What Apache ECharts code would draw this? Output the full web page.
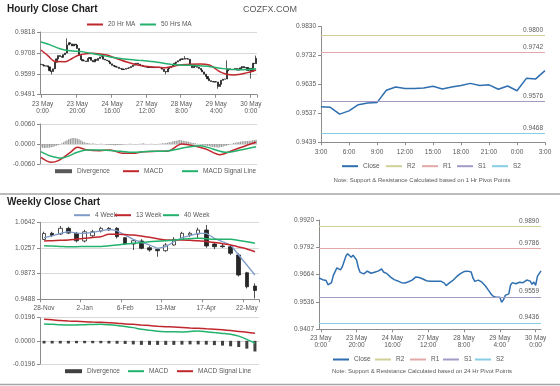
<!DOCTYPE html>
<html><head><meta charset="utf-8">
<script src="https://cdn.jsdelivr.net/npm/echarts/dist/echarts.min.js"></script>
<style>html,body{margin:0;padding:0;background:#fff}#c{width:560px;height:386px}</style>
</head><body><div id="c"></div>
<script>
// ---------------- DATA ----------------
// Hourly closes (22 May 23:00 ... 30 May 3:00)
const hourlyClose = [
0.9648,0.9645,0.9640,0.9642,0.9636,0.9616,0.9612,0.9626,0.9660,0.9678,
0.9695,0.9690,0.9686,0.9700,0.9708,0.9750,0.9762,0.9756,0.9745,0.9755,
0.9750,0.9732,0.9696,0.9674,0.9668,0.9667,0.9664,0.9680,0.9685,0.9670,
0.9662,0.9675,0.9670,0.9680,0.9688,0.9690,0.9676,0.9672,0.9668,0.9662,
0.9652,0.9644,0.9640,0.9636,0.9634,0.9628,0.9626,0.9622,0.9624,0.9628,
0.9630,0.9632,0.9638,0.9645,0.9652,0.9655,0.9650,0.9645,0.9643,0.9638,
0.9635,0.9634,0.9633,0.9636,0.9632,0.9634,0.9632,0.9635,0.9633,0.9630,
0.9624,0.9612,0.9610,0.9626,0.9632,0.9638,0.9645,0.9655,0.9662,0.9668,
0.9675,0.9678,0.9676,0.9680,0.9678,0.9676,0.9648,0.9632,0.9640,0.9638,
0.9634,0.9628,0.9620,0.9610,0.9598,0.9586,0.9574,0.9564,0.9560,0.9557,
0.9559,0.9557,0.9534,0.9545,0.9566,0.9572,0.9573,0.9615,0.9626,0.9621,
0.9621,0.9622,0.9628,0.9619,0.9626,0.9631,0.9638,0.9631,0.9633,0.9618,
0.9629,0.9613,0.9655,0.9653,0.9681];
const hourlyFirstOpen = 0.9650;
const hourlyWickHigh = {15:0.9785, 83:0.9692, 107:0.9670, 124:0.9695};
const hourlyWickLow  = {6:0.9597, 72:0.9597, 102:0.9522, 121:0.9575};
// moving averages: [hour index, value]
const hourlyMA20 = [[0,0.9724],[4,0.9695],[8,0.9665],[14,0.9663],[18,0.9680],[22,0.9698],[26,0.9705],[30,0.9707],[34,0.9703],[38,0.9698],[42,0.9685],[46,0.9672],[50,0.9660],[54,0.9650],[58,0.9642],[63,0.9637],[68,0.9634],[72,0.9632],[76,0.9638],[80,0.9646],[86,0.9650],[92,0.9651],[97,0.9646],[100,0.9630],[103,0.9611],[107,0.9598],[111,0.9594],[115,0.9598],[119,0.9606],[124,0.9620]];
const hourlyMA50 = [[0,0.9766],[5,0.9752],[11,0.9731],[17,0.9720],[23,0.9716],[28,0.9708],[34,0.9698],[40,0.9688],[47,0.9679],[57,0.9670],[67,0.9660],[76,0.9648],[86,0.9644],[96,0.9639],[105,0.9627],[115,0.9621],[124,0.9626]];
const hourlyMACD = [[0,-0.0040],[6,-0.0055],[10,-0.0050],[17,-0.0025],[21,-0.0010],[26,-0.0017],[34,-0.0020],[40,-0.0018],[47,-0.0028],[53,-0.0028],[59,-0.0023],[67,-0.0022],[74,-0.0020],[81,0.0000],[88,-0.0005],[95,-0.0015],[103,-0.0032],[111,-0.0018],[118,-0.0005],[124,0.0005]];
const hourlySignal = [[0,-0.0023],[5,-0.0035],[12,-0.0042],[21,-0.0025],[26,-0.0018],[34,-0.0018],[46,-0.0022],[53,-0.0025],[63,-0.0022],[74,-0.0020],[84,-0.0010],[92,-0.0005],[99,-0.0015],[107,-0.0025],[115,-0.0018],[124,-0.0008]];
const hourlyDivergence = [
-0.0010,-0.0011,-0.0012,-0.0012,-0.0011,-0.0011,-0.0010,-0.0009,-0.0007,-0.0005,-0.0003,
-0.0001,0.0002,0.0005,0.0008,0.0011,0.0014,
0.0016,0.0018,0.0018,0.0017,0.0016,0.0014,0.0011,0.0008,
0.0005,0.0004,0.0003,0.0002,0.0001,0.0002,0.0001,-0.0001,0.0000,0.0001,
0.0001,0.0000,-0.0001,-0.0002,-0.0002,-0.0003,-0.0003,-0.0004,-0.0004,-0.0003,-0.0003,-0.0002,-0.0002,-0.0001,-0.0001,0.0000,0.0001,0.0001,0.0000,-0.0001,
-0.0001,0.0000,0.0001,0.0001,0.0002,0.0001,0.0000,0.0000,0.0001,0.0001,0.0000,-0.0001,0.0000,0.0001,0.0001,0.0002,0.0002,0.0003,0.0004,
0.0005,0.0006,0.0008,0.0009,0.0010,0.0011,0.0012,0.0011,0.0010,0.0009,0.0008,
0.0007,0.0005,0.0004,0.0003,0.0002,0.0001,0.0000,-0.0001,
-0.0002,-0.0003,-0.0005,-0.0006,-0.0007,-0.0008,-0.0009,-0.0010,-0.0010,-0.0011,-0.0010,-0.0009,-0.0008,-0.0006,-0.0005,-0.0003,-0.0001,0.0001,
0.0003,0.0004,0.0005,0.0006,0.0007,0.0008,0.0008,0.0009,0.0009,0.0010,0.0010,0.0011,0.0012,0.0013];
const hourlyYLabels = ['0.9491','0.9599','0.9708','0.9818'];
const hourlyMacdLabels = ['-0.0060','0.0000','0.0060'];
// pivots
const pivot1h = {R2:0.9800, R1:0.9742, S1:0.9576, S2:0.9468};
const pivot24h = {R2:0.9890, R1:0.9786, S1:0.9559, S2:0.9436};
const right1YLabels = ['0.9439','0.9537','0.9635','0.9732','0.9830'];
const right2YLabels = ['0.9407','0.9536','0.9664','0.9792','0.9920'];

// Weekly
const weeklyCategories = ['28-Nov','5-Dec','12-Dec','19-Dec','26-Dec','2-Jan','9-Jan','16-Jan','23-Jan','30-Jan','6-Feb','13-Feb','20-Feb','27-Feb','6-Mar','13-Mar','20-Mar','27-Mar','3-Apr','10-Apr','17-Apr','24-Apr','1-May','8-May','15-May','22-May','29-May'];
const weeklyOpen  = [1.0385,1.0477,1.0466,1.0552,1.0477,1.0362,1.0440,1.0512,1.0552,1.0552,1.0411,1.0317,1.0362,1.0261,1.0237,1.0216,1.0302,1.0387,1.0452,1.0466,1.0526,1.0317,1.0287,1.0276,1.0152,0.9886,0.9686];
const weeklyClose = [1.0475,1.0445,1.0552,1.0480,1.0365,1.0500,1.0500,1.0552,1.0527,1.0426,1.0317,1.0366,1.0252,1.0227,1.0216,1.0302,1.0387,1.0477,1.0477,1.0526,1.0287,1.0276,1.0276,1.0177,0.9852,0.9676,0.9620];
const weeklyLow   = [1.0376,1.0420,1.0452,1.0466,1.0340,1.0340,1.0420,1.0490,1.0515,1.0400,1.0302,1.0226,1.0237,1.0200,1.0126,1.0200,1.0290,1.0376,1.0420,1.0400,1.0260,1.0240,1.0260,1.0150,0.9830,0.9650,0.9502];
const weeklyHigh  = [1.0501,1.0500,1.0587,1.0575,1.0498,1.0530,1.0530,1.0575,1.0570,1.0570,1.0420,1.0390,1.0390,1.0290,1.0250,1.0330,1.0420,1.0500,1.0500,1.0562,1.0602,1.0347,1.0330,1.0300,1.0177,0.9900,0.9727];
const weekly4 =  [1.0411,1.0440,1.0477,1.0501,1.0480,1.0477,1.0490,1.0512,1.0537,1.0516,1.0450,1.0387,1.0340,1.0302,1.0252,1.0276,1.0351,1.0411,1.0441,1.0477,1.0477,1.0402,1.0351,1.0302,1.0152,1.0002,0.9852];
const weekly13 = [1.0362,1.0367,1.0372,1.0377,1.0390,1.0402,1.0414,1.0426,1.0462,1.0462,1.0458,1.0452,1.0435,1.0417,1.0397,1.0377,1.0377,1.0377,1.0372,1.0366,1.0354,1.0341,1.0322,1.0302,1.0272,1.0242,1.0201];
const weekly40 = [1.0291,1.0286,1.0281,1.0276,1.0277,1.0278,1.0280,1.0281,1.0290,1.0302,1.0315,1.0327,1.0339,1.0351,1.0359,1.0366,1.0376,1.0387,1.0395,1.0402,1.0395,1.0387,1.0387,1.0387,1.0370,1.0351,1.0327];
const weeklyMACD = [0.0143,0.0140,0.0136,0.0134,0.0135,0.0137,0.0139,0.0140,0.0136,0.0130,0.0122,0.0112,0.0098,0.0090,0.0082,0.0078,0.0076,0.0075,0.0080,0.0084,0.0078,0.0070,0.0063,0.0055,0.0040,0.0012,-0.0020];
const weeklySignal = [0.0182,0.0178,0.0172,0.0168,0.0165,0.0162,0.0159,0.0157,0.0154,0.0150,0.0143,0.0140,0.0134,0.0129,0.0124,0.0120,0.0117,0.0113,0.0109,0.0106,0.0102,0.0098,0.0093,0.0087,0.0080,0.0072,0.0064];
const weeklyDivergence = [-0.0022,-0.0022,-0.0022,-0.0022,-0.0020,-0.0020,-0.0020,-0.0020,-0.0022,-0.0024,-0.0026,-0.0030,-0.0034,-0.0034,-0.0034,-0.0034,-0.0034,-0.0032,-0.0030,-0.0030,-0.0032,-0.0036,-0.0040,-0.0046,-0.0052,-0.0066,-0.0090];
const weeklyYLabels = ['0.9488','0.9873','1.0257','1.0642'];
const weeklyMacdLabels = ['-0.0196','0.0000','0.0196'];

// ---------------- BUILD ----------------
const hourlyCategories = [];
for (let k = 0; k < hourlyClose.length; k++) {
  let h = k - 1;
  if (h >= 48) h += 48; // weekend gap
  const day = 23 + Math.floor(h / 24);
  hourlyCategories.push(day + ' May ' + (((h % 24) + 24) % 24) + ':00');
}
const hourlyCandles = hourlyClose.map((c, i) => {
  const o = i === 0 ? hourlyFirstOpen : hourlyClose[i - 1];
  const lo = Math.min(o, c, hourlyWickLow[i] !== undefined ? hourlyWickLow[i] : Infinity);
  const hi = Math.max(o, c, hourlyWickHigh[i] !== undefined ? hourlyWickHigh[i] : -Infinity);
  return [o, c, lo, hi];
});
const weeklyCandles = weeklyOpen.map((o, i) => [o, weeklyClose[i], weeklyLow[i], weeklyHigh[i]]);
const last24 = hourlyCategories.slice(-25);
const last24Close = hourlyClose.slice(-25);

const FONT = 'Liberation Sans, Arial, sans-serif';
const TXT = '#595959', AXC = '#8c8c8c', GRC = '#d9d9d9';
const RED = '#c0272d', GREEN = '#23b26d', BLUE = '#2f6fb0', STEEL = '#7f9cc9';
const R2C = '#cfcf96', R1C = '#e3a8a8', S1C = '#a39bc6', S2C = '#86cde6';

function nearest(labels, v) {
  let best = labels[0], d = Infinity;
  labels.forEach(s => { const e = Math.abs(parseFloat(s) - v); if (e < d) { d = e; best = s; } });
  return best;
}
function yAx(gi, labels, opt) {
  const mn = parseFloat(labels[0]), mx = parseFloat(labels[labels.length - 1]);
  return Object.assign({
    type: 'value', gridIndex: gi, min: mn, max: mx, interval: (mx - mn) / (labels.length - 1),
    axisLine: {show: true, lineStyle: {color: AXC}},
    axisTick: {show: true, length: 3, lineStyle: {color: AXC}},
    axisLabel: {color: TXT, fontSize: 6.5, fontFamily: FONT, margin: 5, formatter: v => nearest(labels, v)},
    splitLine: {show: true, lineStyle: {color: GRC}}
  }, opt || {});
}
const hourLabelInterval = idx => idx % 20 === 1;
function xAx(gi, data, opt) {
  return Object.assign({
    type: 'category', gridIndex: gi, data,
    axisLine: {show: true, lineStyle: {color: AXC}},
    axisTick: {show: true, length: 3, lineStyle: {color: AXC}},
    axisLabel: {color: TXT, fontSize: 6.5, fontFamily: FONT, margin: 5, lineHeight: 7},
    splitLine: {show: false}
  }, opt || {});
}
function leg(name, color, left, cy, h, w) {
  return {show: true, selectedMode: false, left: left, top: cy - 4, icon: 'rect',
    itemWidth: w || 16, itemHeight: h || 2, padding: 0, itemGap: 0,
    textStyle: {color: TXT, fontSize: 6.5, fontFamily: FONT},
    data: [{name: name, itemStyle: {color: color}}]};
}
function pivotSeries(name, color, value, gi) {
  return {type: 'line', name: name, xAxisIndex: gi, yAxisIndex: gi, data: [], color: color,
    markLine: {silent: true, symbol: 'none', animation: false, precision: 4,
      lineStyle: {color: color, type: 'solid', width: 1.2},
      label: {position: 'insideEndTop', formatter: p => Number(p.value).toFixed(4), color: TXT, fontSize: 6.5, fontFamily: FONT, distance: 2},
      data: [{yAxis: value}]}};
}
const lineBase = {type: 'line', showSymbol: false, symbol: 'none', smooth: 0.3};

const option = {
  animation: false,
  textStyle: {fontFamily: FONT},
  grid: [
    {left: 40, top: 32, width: 217, height: 62.7, outerBoundsMode: 'none'},
    {left: 40, top: 124, width: 217, height: 40, outerBoundsMode: 'none'},
    {left: 40, top: 222.3, width: 219, height: 77, outerBoundsMode: 'none'},
    {left: 40, top: 317.7, width: 219, height: 46.3, outerBoundsMode: 'none'},
    {left: 321, top: 26.5, width: 224, height: 115.8, outerBoundsMode: 'none'},
    {left: 319, top: 220, width: 222, height: 109.3, outerBoundsMode: 'none'}
  ],
  xAxis: [
    xAx(0, hourlyCategories, {axisLabel: {color: TXT, fontSize: 6.5, fontFamily: FONT, margin: 6, lineHeight: 7, interval: hourLabelInterval, formatter: v => v.replace(/ (\d+:\d+)$/, '\n$1')}, axisTick: {show: true, length: 3, interval: hourLabelInterval, lineStyle: {color: AXC}}}),
    xAx(1, hourlyCategories, {show: false}),
    xAx(2, weeklyCategories, {axisLabel: {color: TXT, fontSize: 6.5, fontFamily: FONT, margin: 5, interval: 4}, axisTick: {show: true, length: 3, interval: 4, lineStyle: {color: AXC}}}),
    xAx(3, weeklyCategories, {show: false}),
    xAx(4, last24, {boundaryGap: false, axisLabel: {color: TXT, fontSize: 6.5, fontFamily: FONT, margin: 6, interval: 2, formatter: v => v.split(' ').pop()}, axisTick: {show: true, length: 3, interval: 2, lineStyle: {color: AXC}}}),
    xAx(5, hourlyCategories, {boundaryGap: false, axisLabel: {color: TXT, fontSize: 6.5, fontFamily: FONT, margin: 5, lineHeight: 7, interval: hourLabelInterval, formatter: v => v.replace(/ (\d+:\d+)$/, '\n$1')}, axisTick: {show: true, length: 3, interval: hourLabelInterval, lineStyle: {color: AXC}}})
  ],
  yAxis: [
    yAx(0, hourlyYLabels),
    yAx(1, hourlyMacdLabels),
    yAx(2, weeklyYLabels),
    yAx(3, weeklyMacdLabels),
    yAx(4, right1YLabels, {splitLine: {show: false}}),
    yAx(5, right2YLabels, {splitLine: {show: false}})
  ],
  legend: [
    leg('20 Hr MA', RED, 87, 25),
    leg('50 Hrs MA', GREEN, 140, 25),
    leg('Divergence', '#595959', 55, 171.7, 4, 17),
    leg('MACD', RED, 123, 171.7),
    leg('MACD Signal Line', GREEN, 182, 171.7),
    leg('4 Week', STEEL, 74, 215.7),
    leg('13 Week', RED, 115, 215.7),
    leg('40 Week', GREEN, 163, 215.7),
    leg('Divergence', '#404040', 65, 371.7, 4, 17),
    leg('MACD', GREEN, 128, 371.7),
    leg('MACD Signal Line', RED, 177, 371.7),
    leg('Close', BLUE, 342, 166.7),
    leg('R2', R2C, 386, 166.7),
    leg('R1', R1C, 422, 166.7),
    leg('S1', S1C, 457, 166.7),
    leg('S2', S2C, 492, 166.7),
    leg('Close', BLUE, 333, 360),
    leg('R2', R2C, 375, 360),
    leg('R1', R1C, 410, 360),
    leg('S1', S1C, 443, 360),
    leg('S2', S2C, 475, 360)
  ],
  series: [
    {type: 'candlestick', name: 'Hourly', xAxisIndex: 0, yAxisIndex: 0, data: hourlyCandles, barWidth: 1.6,
      itemStyle: {color: '#3a3a3a', color0: '#111111', borderColor: '#111111', borderColor0: '#111111', borderWidth: 0.7}},
    Object.assign({}, lineBase, {name: '20 Hr MA', xAxisIndex: 0, yAxisIndex: 0, data: hourlyMA20, color: RED, lineStyle: {width: 1.5, color: RED}}),
    Object.assign({}, lineBase, {name: '50 Hrs MA', xAxisIndex: 0, yAxisIndex: 0, data: hourlyMA50, color: GREEN, lineStyle: {width: 1.5, color: GREEN}}),

    {type: 'bar', name: 'Divergence', xAxisIndex: 1, yAxisIndex: 1, data: hourlyDivergence, barWidth: 1.2, itemStyle: {color: '#9a9a9a'}},
    Object.assign({}, lineBase, {name: 'MACD', xAxisIndex: 1, yAxisIndex: 1, data: hourlyMACD, lineStyle: {width: 1.5, color: RED}, color: RED}),
    Object.assign({}, lineBase, {name: 'MACD Signal Line', xAxisIndex: 1, yAxisIndex: 1, data: hourlySignal, lineStyle: {width: 1.5, color: GREEN}, color: GREEN}),

    {type: 'candlestick', name: 'Weekly', xAxisIndex: 2, yAxisIndex: 2, data: weeklyCandles, barWidth: 4,
      itemStyle: {color: '#ffffff', color0: '#262626', borderColor: '#262626', borderColor0: '#262626', borderWidth: 0.8}},
    Object.assign({}, lineBase, {name: '4 Week', xAxisIndex: 2, yAxisIndex: 2, data: weekly4, smooth: false, lineStyle: {width: 1.3, color: STEEL}, color: STEEL}),
    Object.assign({}, lineBase, {name: '13 Week', xAxisIndex: 2, yAxisIndex: 2, data: weekly13, lineStyle: {width: 1.5, color: RED}, color: RED}),
    Object.assign({}, lineBase, {name: '40 Week', xAxisIndex: 2, yAxisIndex: 2, data: weekly40, lineStyle: {width: 1.5, color: GREEN}, color: GREEN}),

    {type: 'bar', name: 'Divergence', xAxisIndex: 3, yAxisIndex: 3, data: weeklyDivergence, barWidth: 3, itemStyle: {color: '#404040'}},
    Object.assign({}, lineBase, {name: 'MACD', xAxisIndex: 3, yAxisIndex: 3, data: weeklyMACD, lineStyle: {width: 1.5, color: GREEN}, color: GREEN}),
    Object.assign({}, lineBase, {name: 'MACD Signal Line', xAxisIndex: 3, yAxisIndex: 3, data: weeklySignal, lineStyle: {width: 1.5, color: RED}, color: RED}),

    Object.assign({}, lineBase, {name: 'Close', xAxisIndex: 4, yAxisIndex: 4, data: last24Close, smooth: false, lineStyle: {width: 1.5, color: BLUE}, color: BLUE}),
    pivotSeries('R2', R2C, pivot1h.R2, 4),
    pivotSeries('R1', R1C, pivot1h.R1, 4),
    pivotSeries('S1', S1C, pivot1h.S1, 4),
    pivotSeries('S2', S2C, pivot1h.S2, 4),

    Object.assign({}, lineBase, {name: 'Close', xAxisIndex: 5, yAxisIndex: 5, data: hourlyClose, smooth: false, lineStyle: {width: 1.5, color: BLUE}, color: BLUE}),
    pivotSeries('R2', R2C, pivot24h.R2, 5),
    pivotSeries('R1', R1C, pivot24h.R1, 5),
    pivotSeries('S1', S1C, pivot24h.S1, 5),
    pivotSeries('S2', S2C, pivot24h.S2, 5)
  ],
  graphic: [
    {type: 'text', left: 7, top: 4, style: {text: 'Hourly Close Chart', font: 'bold 10px "Liberation Sans", Arial', fill: '#1f1f1f'}},
    {type: 'text', left: 243, top: 5, style: {text: 'COZFX.COM', font: '9px "Liberation Sans", Arial', fill: '#595959'}},
    {type: 'text', left: 7, top: 197, style: {text: 'Weekly Close Chart', font: 'bold 10px "Liberation Sans", Arial', fill: '#1f1f1f'}},
    {type: 'line', shape: {x1: 0, y1: 194, x2: 560, y2: 194}, style: {stroke: '#a6a6a6', lineWidth: 1.5}},
    {type: 'line', shape: {x1: 0, y1: 384.5, x2: 560, y2: 384.5}, style: {stroke: '#a6a6a6', lineWidth: 1.5}},
    {type: 'text', x: 422, y: 180, style: {text: 'Note: Support & Resistance Calculated based on 1 Hr Pivot Points', font: '6px "Liberation Sans", Arial', fill: TXT, align: 'center', verticalAlign: 'middle', textAlign: 'center', textVerticalAlign: 'middle'}},
    {type: 'text', x: 422, y: 371, style: {text: 'Note: Support & Resistance Calculated based on 24 Hr Pivot Points', font: '6px "Liberation Sans", Arial', fill: TXT, align: 'center', verticalAlign: 'middle', textAlign: 'center', textVerticalAlign: 'middle'}}
  ]
};
const chart = echarts.init(document.getElementById('c'), null, {renderer: 'canvas'});
chart.setOption(option);
</script></body></html>
